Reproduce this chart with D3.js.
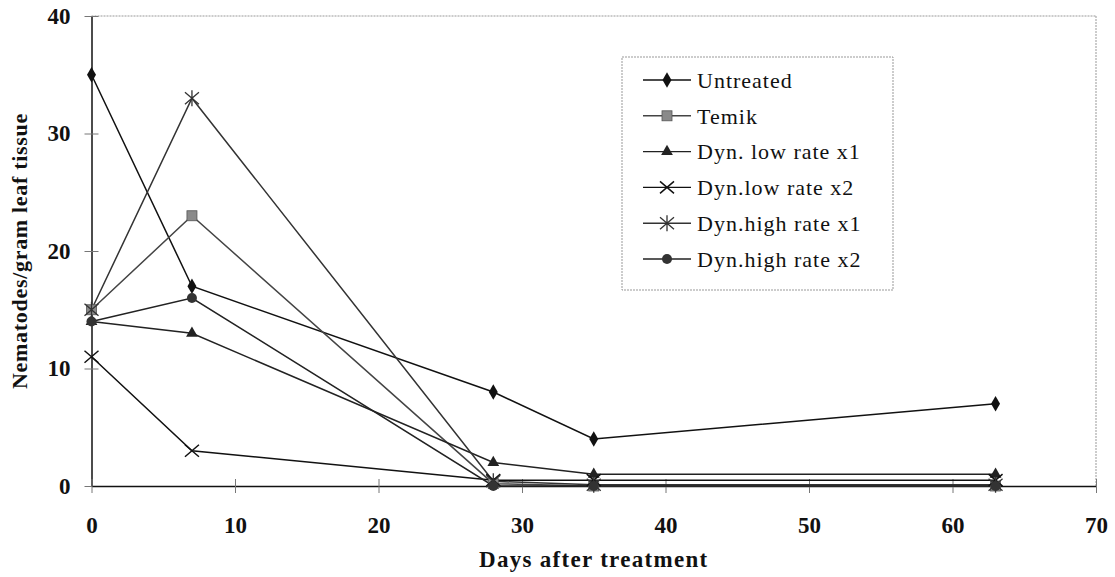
<!DOCTYPE html>
<html>
<head>
<meta charset="utf-8">
<script src="https://cdn.jsdelivr.net/npm/d3@7"></script>
<style>
  html, body { margin: 0; padding: 0; background: #fff; }
  svg { display: block; }
</style>
</head>
<body>
<svg id="chart" width="1115" height="577"></svg>
<script>
// Sampling days and nematode counts per treatment
const days = [0, 7, 28, 35, 63];
const untreated   = [35, 17, 8, 4, 7];
const temik       = [15, 23, 0.2, 0, 0];
const dynLowX1    = [14, 13, 2, 1, 1];
const dynLowX2    = [11, 3, 0.5, 0.5, 0.5];
const dynHighX1   = [15, 33, 0.4, 0.1, 0.1];
const dynHighX2   = [14, 16, 0, 0, 0];

const xTicks = [0, 10, 20, 30, 40, 50, 60, 70];
const yTicks = [0, 10, 20, 30, 40];

const seriesNames = ["Untreated", "Temik", "Dyn. low rate x1", "Dyn.low rate x2", "Dyn.high rate x1", "Dyn.high rate x2"];
const seriesValues = [untreated, temik, dynLowX1, dynLowX2, dynHighX1, dynHighX2];
const markerTypes = ["diamond", "square", "triangle", "cross", "star", "circle"];

const svg = d3.select("#chart");
const margin = { left: 91.5, right: 1096, top: 16, bottom: 486 };

const x = d3.scaleLinear().domain([0, 70]).range([margin.left, margin.right]);
const y = d3.scaleLinear().domain([0, 40]).range([margin.bottom, margin.top]);

const serif = "'Liberation Serif', 'Times New Roman', serif";

// plot frame: dotted top/right, solid axes left/bottom
svg.append("line").attr("x1", x(0)).attr("x2", x(70)).attr("y1", y(40)).attr("y2", y(40))
  .attr("stroke", "#999").attr("stroke-width", 1).attr("stroke-dasharray", "2,1");
svg.append("line").attr("x1", x(70)).attr("x2", x(70)).attr("y1", y(40)).attr("y2", y(0))
  .attr("stroke", "#999").attr("stroke-width", 1).attr("stroke-dasharray", "2,1");

// y axis
const yAxis = d3.axisLeft(y).tickValues(yTicks).tickSizeInner(7).tickSizeOuter(0).tickPadding(14);
const gy = svg.append("g").attr("transform", `translate(${x(0)},0)`).call(yAxis);
gy.select(".domain").attr("stroke", "#111").attr("stroke-width", 1.5);
gy.selectAll(".tick line").attr("stroke", "#777").attr("x2", -7).attr("x1", 7);
gy.selectAll(".tick text").attr("font-family", serif).attr("font-weight", "bold")
  .attr("font-size", 23).attr("fill", "#111");

// x axis
const xAxis = d3.axisBottom(x).tickValues(xTicks).tickSizeInner(7).tickSizeOuter(0).tickPadding(24);
const gx = svg.append("g").attr("transform", `translate(0,${y(0)})`).call(xAxis);
gx.select(".domain").attr("stroke", "#111").attr("stroke-width", 1.5);
gx.selectAll(".tick line").attr("stroke", "#777").attr("y1", -7).attr("y2", 7);
gx.selectAll(".tick text").attr("font-family", serif).attr("font-weight", "bold")
  .attr("font-size", 23).attr("fill", "#111");

// axis titles
svg.append("text").attr("x", (x(0) + x(70)) / 2).attr("y", 567)
  .attr("text-anchor", "middle").attr("font-family", serif).attr("font-weight", "bold")
  .attr("font-size", 23).attr("letter-spacing", 1.3).attr("fill", "#111").text("Days after treatment");
svg.append("text").attr("transform", `translate(27,${(y(0) + y(40)) / 2}) rotate(-90)`)
  .attr("text-anchor", "middle").attr("font-family", serif).attr("font-weight", "bold")
  .attr("font-size", 22).attr("letter-spacing", 0.7).attr("fill", "#111").text("Nematodes/gram leaf tissue");

// marker drawing
function drawMarker(g, type) {
  switch (type) {
    case "diamond":
      g.append("path").attr("d", d3.symbol(d3.symbolDiamond, 70)()).attr("fill", "#111");
      break;
    case "square":
      g.append("rect").attr("x", -5).attr("y", -5).attr("width", 10).attr("height", 10)
        .attr("fill", "#8a8a8a").attr("stroke", "#555").attr("stroke-width", 0.8);
      break;
    case "triangle":
      g.append("path").attr("d", d3.symbol(d3.symbolTriangle, 60)()).attr("fill", "#222");
      break;
    case "cross":
      g.append("path").attr("d", "M-7,-6L7,6M-7,6L7,-6").attr("stroke", "#111").attr("stroke-width", 1.5).attr("fill", "none");
      break;
    case "star":
      g.append("path").attr("d", "M-7,-6L7,6M-7,6L7,-6M0,-8L0,8").attr("stroke", "#333").attr("stroke-width", 1.3).attr("fill", "none");
      break;
    case "circle":
      g.append("circle").attr("r", 5).attr("fill", "#333");
      break;
  }
}

const line = d3.line().x((d, i) => x(days[i])).y(d => y(d));
const lineColors = ["#111", "#444", "#222", "#111", "#333", "#222"];

seriesValues.forEach((vals, si) => {
  svg.append("path").datum(vals).attr("d", line)
    .attr("fill", "none").attr("stroke", lineColors[si]).attr("stroke-width", 1.5);
});
seriesValues.forEach((vals, si) => {
  vals.forEach((v, i) => {
    const g = svg.append("g").attr("transform", `translate(${x(days[i])},${y(v)})`);
    drawMarker(g, markerTypes[si]);
  });
});

// legend
const legend = svg.append("g");
legend.append("rect").attr("x", 622).attr("y", 57).attr("width", 271).attr("height", 233)
  .attr("fill", "#fff").attr("stroke", "#999").attr("stroke-width", 1).attr("stroke-dasharray", "2,1");
seriesNames.forEach((name, i) => {
  const ly = 80 + i * 35.8;
  legend.append("line").attr("x1", 643).attr("x2", 691).attr("y1", ly).attr("y2", ly)
    .attr("stroke", lineColors[i]).attr("stroke-width", 1.4);
  drawMarker(legend.append("g").attr("transform", `translate(667,${ly})`), markerTypes[i]);
  legend.append("text").attr("x", 697).attr("y", ly).attr("dy", "0.35em")
    .attr("font-family", serif).attr("font-size", 22).attr("letter-spacing", 1)
    .attr("fill", "#111").text(name);
});
</script>
</body>
</html>
